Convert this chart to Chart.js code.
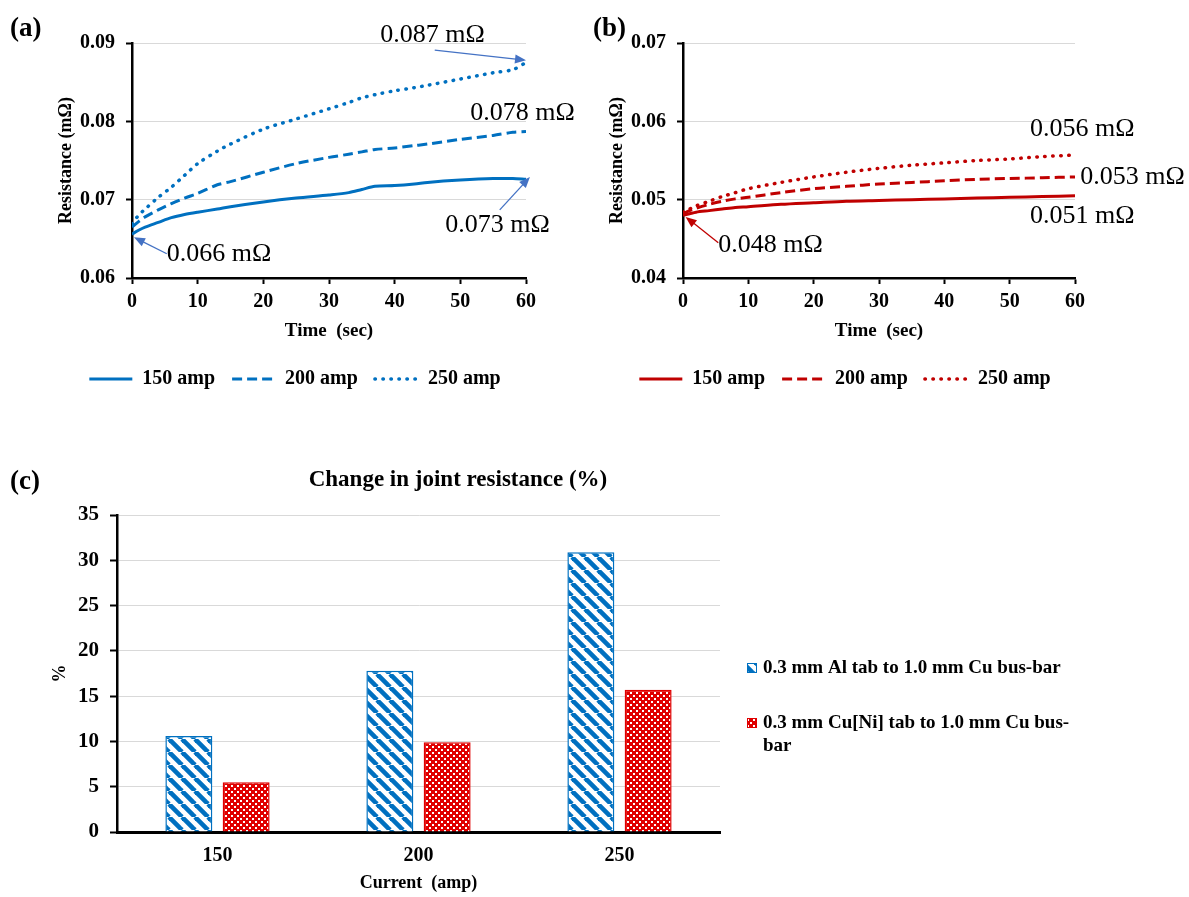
<!DOCTYPE html>
<html>
<head>
<meta charset="utf-8">
<script src="https://cdn.jsdelivr.net/npm/chart.js@4.4.1/dist/chart.umd.min.js"></script>
<style>
  body { margin: 0; background: #fff; }
  #wrap { position: relative; width: 1189px; height: 897px; }
  .box { position: absolute; }
  .tag { position: absolute; font: bold 27px "Liberation Serif", serif; line-height: 1; }
</style>
</head>
<body>
<div id="wrap">
  <div class="box" style="left:0;top:0;width:590px;height:420px"><canvas id="chartA"></canvas></div>
  <div class="box" style="left:590px;top:0;width:599px;height:420px"><canvas id="chartB"></canvas></div>
  <div class="box" style="left:0;top:440px;width:1189px;height:457px"><canvas id="chartC"></canvas></div>
  <div class="tag" style="left:10px;top:14px">(a)</div>
  <div class="tag" style="left:593px;top:14px">(b)</div>
  <div class="tag" style="left:10px;top:467px">(c)</div>
</div>
<script>
// ---- data ----
const seriesLabels = ['150 amp', '200 amp', '250 amp'];

// (a) Al tab joint, resistance in mOhm vs time in s
const timesA = [0, 1, 2, 4, 6, 8, 10, 13, 15, 20, 25, 30, 33, 35, 37, 40, 43, 45, 50, 55, 58, 60];
const al150 = [0.0656, 0.0661, 0.0665, 0.0671, 0.0677, 0.0681, 0.0684, 0.0688, 0.0691, 0.0697, 0.0702, 0.0706,
               0.0709, 0.0713, 0.0717, 0.0718, 0.0720, 0.0722, 0.0725, 0.0727, 0.0727, 0.0726];
const al200 = [0.0665, 0.0672, 0.0678, 0.0687, 0.0695, 0.0702, 0.0708, 0.0719, 0.0723, 0.0735, 0.0746, 0.0754,
               0.0758, 0.0761, 0.0764, 0.0766, 0.0769, 0.0771, 0.0777, 0.0782, 0.0786, 0.0787];
const al250 = [0.0669, 0.0680, 0.0688, 0.0703, 0.0716, 0.0731, 0.0746, 0.0762, 0.0771, 0.0790, 0.0803, 0.0816,
               0.0824, 0.0830, 0.0834, 0.0839, 0.0843, 0.0846, 0.0854, 0.0862, 0.0866, 0.0875];

// (b) Cu[Ni] tab joint
const timesB = [0, 1, 2, 4, 6, 8, 10, 15, 20, 25, 30, 35, 40, 45, 50, 55, 60];
const cu150 = [0.0480, 0.0482, 0.0484, 0.0486, 0.0488, 0.0490, 0.0491, 0.0494, 0.0496, 0.0498, 0.0499,
               0.0500, 0.0501, 0.0502, 0.0503, 0.0504, 0.0505];
const cu200 = [0.0482, 0.0486, 0.0489, 0.0494, 0.0498, 0.0501, 0.0503, 0.0509, 0.0514, 0.0517, 0.0520,
               0.0522, 0.0524, 0.0526, 0.0527, 0.0528, 0.0529];
const cu250 = [0.0484, 0.0488, 0.0492, 0.0498, 0.0504, 0.0509, 0.0514, 0.0522, 0.0529, 0.0535, 0.0540,
               0.0544, 0.0547, 0.0550, 0.0552, 0.0555, 0.0557];

// (c) change in joint resistance
const currents = ['150', '200', '250'];
const changeAl = [10.6, 17.8, 30.9];
const changeCuNi = [5.5, 9.9, 15.7];
const barLabels = ['0.3 mm Al tab to 1.0 mm Cu bus-bar', '0.3 mm Cu[Ni] tab to 1.0 mm Cu bus-bar'];

Chart.defaults.font.family = '"Liberation Serif", "Times New Roman", serif';
Chart.defaults.color = '#000';

const BLUE = '#0070C0';
const RED = '#C00000';
const BRIGHT_RED = '#E00000';

function pts(times, vals) {
    return times.map((t, i) => ({ x: t, y: vals[i] }));
}

// text labels + arrows placed in data coordinates
const notesPlugin = {
    id: 'notes',
    afterDatasetsDraw(chart, args, opts) {
        const { ctx, scales: { x, y } } = chart;
        ctx.save();
        ctx.font = '26px "Liberation Serif"';
        ctx.fillStyle = '#000';
        ctx.textBaseline = 'middle';
        opts.texts.forEach(n => {
            ctx.fillText(n.text, x.getPixelForValue(n.t), y.getPixelForValue(n.v));
        });
        ctx.strokeStyle = opts.arrowColor;
        ctx.fillStyle = opts.arrowColor;
        ctx.lineWidth = 1.3;
        opts.arrows.forEach(a => {
            const x1 = x.getPixelForValue(a.from[0]), y1 = y.getPixelForValue(a.from[1]);
            const x2 = x.getPixelForValue(a.to[0]), y2 = y.getPixelForValue(a.to[1]);
            const ang = Math.atan2(y2 - y1, x2 - x1);
            ctx.beginPath();
            ctx.moveTo(x1, y1);
            ctx.lineTo(x2 - 8 * Math.cos(ang), y2 - 8 * Math.sin(ang));
            ctx.stroke();
            ctx.beginPath();
            ctx.moveTo(x2, y2);
            ctx.lineTo(x2 - 11 * Math.cos(ang) + 4.5 * Math.sin(ang), y2 - 11 * Math.sin(ang) - 4.5 * Math.cos(ang));
            ctx.lineTo(x2 - 11 * Math.cos(ang) - 4.5 * Math.sin(ang), y2 - 11 * Math.sin(ang) + 4.5 * Math.cos(ang));
            ctx.closePath();
            ctx.fill();
        });
        ctx.restore();
    }
};

function lineDatasets(times, vals, color) {
    return [
        { label: seriesLabels[0], data: pts(times, vals[0]), borderColor: color, backgroundColor: color,
          borderWidth: 3, pointRadius: 0, tension: 0.3 },
        { label: seriesLabels[1], data: pts(times, vals[1]), borderColor: color, backgroundColor: color,
          borderWidth: 3, borderDash: [10, 5], pointRadius: 0, tension: 0.3 },
        { label: seriesLabels[2], data: pts(times, vals[2]), borderColor: color, backgroundColor: color,
          borderWidth: 3.5, borderDash: [0.5, 7.5], borderCapStyle: 'round', pointRadius: 0, tension: 0.3 }
    ];
}

// legend samples keep the dataset's own dash pattern
function lineLegendLabels(chart) {
    return chart.data.datasets.map((ds, i) => ({
        text: ds.label,
        fillStyle: ds.borderColor,
        strokeStyle: ds.borderColor,
        lineWidth: ds.borderWidth,
        lineDash: ds.borderDash || [],
        lineCap: ds.borderCapStyle || 'butt',
        pointStyle: 'line',
        fontColor: '#000',
        hidden: false,
        datasetIndex: i
    }));
}

function lineOptions(yMin, yMax, padLeft, padRight, notes) {
    return {
        responsive: true,
        maintainAspectRatio: false,
        animation: false,
        layout: { padding: { left: padLeft, right: padRight, top: 43, bottom: 21 } },
        scales: {
            x: {
                type: 'linear', min: 0, max: 60,
                ticks: { stepSize: 10, padding: 6, font: { size: 20, weight: 'bold' } },
                grid: { drawOnChartArea: false, tickColor: '#000', tickLength: 6, tickWidth: 2 },
                border: { color: '#000', width: 2.5 },
                title: { display: true, text: 'Time  (sec)', font: { size: 19, weight: 'bold' }, padding: { top: 0, bottom: 10 } },
                afterFit(s) { s.height = 74; }
            },
            y: {
                min: yMin, max: yMax,
                ticks: { stepSize: 0.01, padding: 11, font: { size: 20, weight: 'bold' }, callback: v => v.toFixed(2) },
                grid: { color: '#d9d9d9', tickColor: '#000', tickLength: 6, tickWidth: 2 },
                border: { color: '#000', width: 2.5 },
                title: { display: true, text: 'Resistance (mΩ)', font: { size: 18, weight: 'bold' }, padding: { top: -8, bottom: 0 } },
                afterFit(s) { s.width = 68; }
            }
        },
        plugins: {
            legend: {
                position: 'bottom',
                labels: { usePointStyle: true, pointStyle: 'line', pointStyleWidth: 43, padding: 17,
                          color: '#000', font: { size: 20, weight: 'bold' }, generateLabels: lineLegendLabels }
            },
            tooltip: { enabled: false },
            notes: notes
        }
    };
}

// (a)
new Chart(document.getElementById('chartA').getContext('2d'), {
    type: 'line',
    data: { datasets: lineDatasets(timesA, [al150, al200, al250], BLUE) },
    options: lineOptions(0.06, 0.09, 64, 64, {
        arrowColor: '#4472C4',
        texts: [
            { text: '0.087 mΩ', t: 37.8, v: 0.0910 },
            { text: '0.078 mΩ', t: 51.5, v: 0.0811 },
            { text: '0.073 mΩ', t: 47.7, v: 0.0668 },
            { text: '0.066 mΩ', t: 5.3, v: 0.0631 }
        ],
        arrows: [
            { from: [46.1, 0.0891], to: [60, 0.0878] },
            { from: [56, 0.0687], to: [60.6, 0.0729] },
            { from: [5.3, 0.0631], to: [0.3, 0.0652] }
        ]
    }),
    plugins: [notesPlugin]
});

// (b)
new Chart(document.getElementById('chartB').getContext('2d'), {
    type: 'line',
    data: { datasets: lineDatasets(timesB, [cu150, cu200, cu250], RED) },
    options: lineOptions(0.04, 0.07, 25, 114, {
        arrowColor: RED,
        texts: [
            { text: '0.056 mΩ', t: 53.1, v: 0.0590 },
            { text: '0.053 mΩ', t: 60.8, v: 0.0529 },
            { text: '0.051 mΩ', t: 53.1, v: 0.0479 },
            { text: '0.048 mΩ', t: 5.4, v: 0.0442 }
        ],
        arrows: [
            { from: [5.4, 0.0445], to: [0.4, 0.0478] }
        ]
    }),
    plugins: [notesPlugin]
});

// (c) fill patterns
function makePattern(draw, size) {
    const c = document.createElement('canvas');
    c.width = size; c.height = size;
    draw(c.getContext('2d'), size);
    return c.getContext('2d').createPattern(c, 'repeat');
}
const ctxC = document.getElementById('chartC').getContext('2d');
const stripes = makePattern((g, s) => {
    g.fillStyle = '#fff';
    g.fillRect(0, 0, s, s);
    g.strokeStyle = BLUE;
    g.lineWidth = 4.6;
    [-s, 0, s].forEach(k => {
        g.beginPath();
        g.moveTo(k, 0);
        g.lineTo(k + s, s);
        g.stroke();
    });
}, 13);
const checks = makePattern((g, s) => {
    g.fillStyle = BRIGHT_RED;
    g.fillRect(0, 0, s, s);
    g.fillStyle = '#fff';
    g.fillRect(0, 0, 2, 2);
    g.fillRect(3, 3, 2, 2);
}, 6);

const barTextPlugin = {
    id: 'barText',
    afterDraw(chart) {
        const ctx = chart.ctx;
        ctx.save();
        ctx.fillStyle = '#000';
        ctx.textBaseline = 'middle';
        ctx.textAlign = 'center';
        ctx.font = 'bold 23px "Liberation Serif"';
        ctx.fillText('Change in joint resistance (%)', 458, 40);
        ctx.textAlign = 'left';
        ctx.font = 'bold 19px "Liberation Serif"';
        const rows = [
            { fill: stripes, stroke: BLUE, y: 228, lines: ['0.3 mm Al tab to 1.0 mm Cu bus-bar'] },
            { fill: checks, stroke: BRIGHT_RED, y: 283, lines: ['0.3 mm Cu[Ni] tab to 1.0 mm Cu bus-', 'bar'] }
        ];
        rows.forEach(r => {
            ctx.fillStyle = r.fill;
            ctx.fillRect(747, r.y - 5, 10, 10);
            ctx.strokeStyle = r.stroke;
            ctx.lineWidth = 1;
            ctx.strokeRect(747.5, r.y - 4.5, 9, 9);
            ctx.fillStyle = '#000';
            r.lines.forEach((ln, i) => ctx.fillText(ln, 763, r.y + i * 23));
        });
        ctx.restore();
    }
};

new Chart(ctxC, {
    type: 'bar',
    data: {
        labels: currents,
        datasets: [
            { label: barLabels[0], data: changeAl, backgroundColor: stripes, borderColor: BLUE, borderWidth: 1.5 },
            { label: barLabels[1], data: changeCuNi, backgroundColor: checks, borderColor: BRIGHT_RED, borderWidth: 1.5 }
        ]
    },
    options: {
        responsive: true,
        maintainAspectRatio: false,
        animation: false,
        layout: { padding: { left: 40, right: 469, top: 75, bottom: 0 } },
        datasets: { bar: { categoryPercentage: 0.57, barPercentage: 0.82 } },
        scales: {
            x: {
                ticks: { padding: 12, font: { size: 20, weight: 'bold' } },
                grid: { drawOnChartArea: false, drawTicks: false },
                border: { color: '#000', width: 3 },
                title: { display: true, text: 'Current  (amp)', font: { size: 18, weight: 'bold' }, padding: { top: 0, bottom: 3 } },
                afterFit(s) { s.height = 65; }
            },
            y: {
                min: 0, max: 35,
                ticks: { stepSize: 5, padding: 11, font: { size: 21, weight: 'bold' } },
                grid: { color: '#d9d9d9', tickColor: '#000', tickLength: 7, tickWidth: 2 },
                border: { color: '#000', width: 2.5 },
                title: { display: true, text: '%', font: { size: 18, weight: 'bold' }, padding: { top: 10, bottom: 0 } },
                afterFit(s) { s.width = 77; }
            }
        },
        plugins: { legend: { display: false }, tooltip: { enabled: false } }
    },
    plugins: [barTextPlugin]
});
</script>
</body>
</html>
